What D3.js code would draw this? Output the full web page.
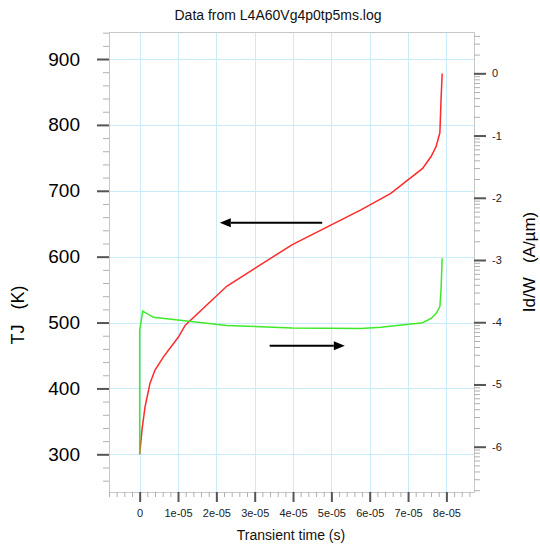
<!DOCTYPE html>
<html>
<head>
<meta charset="utf-8">
<script src="https://cdn.jsdelivr.net/npm/d3@7"></script>
<style>
  html, body { margin: 0; padding: 0; background: #fff; }
  svg { display: block; font-family: "Liberation Sans", Arial, Helvetica, sans-serif; }
</style>
</head>
<body>
<svg id="chart" width="540" height="544"></svg>
<script>
// ---- data ----
const titleText = "Data from L4A60Vg4p0tp5ms.log";
const xLabel = "Transient time (s)";
const yLeftLabel = "TJ   (K)";
const yRightLabel = "Id/W   (A/\u00b5m)";

const xTicks = [0, 1e-5, 2e-5, 3e-5, 4e-5, 5e-5, 6e-5, 7e-5, 8e-5];
const xTickLabels = ["0", "1e-05", "2e-05", "3e-05", "4e-05", "5e-05", "6e-05", "7e-05", "8e-05"];
const leftTicks = [300, 400, 500, 600, 700, 800, 900];
const rightTickExps = [-6, -5, -4, -3, -2, -1, 0];

// Red: junction temperature (left axis)
const redTime = [0, 0.06e-5, 0.14e-5, 0.27e-5, 0.4e-5, 0.62e-5, 1.01e-5, 1.19e-5, 2.27e-5, 3.97e-5, 5.77e-5, 6.55e-5, 7.38e-5, 7.6e-5, 7.73e-5, 7.83e-5, 7.86e-5, 7.89e-5];
const redTJ   = [300, 337, 372, 408, 428, 448, 478, 496, 555, 618, 671, 696, 734, 752, 767, 788, 838, 878];

// Green: drain current per width (right axis, log)
const greenTime = [0, 0, 0.08e-5, 0.36e-5, 1.23e-5, 2.27e-5, 3.98e-5, 5.77e-5, 6.29e-5, 7.38e-5, 7.6e-5, 7.73e-5, 7.83e-5, 7.86e-5, 7.89e-5];
const greenId   = [7.8e-7, 7.4e-5, 1.51e-4, 1.2e-4, 1.05e-4, 8.9e-5, 8.1e-5, 7.9e-5, 8.3e-5, 9.8e-5, 1.15e-4, 1.38e-4, 1.78e-4, 3.3e-4, 1.07e-3];

// Annotation arrows (data coordinates)
const leftArrow  = { t0: 4.76e-5, t1: 2.09e-5, tj: 651.5 };
const rightArrow = { t0: 3.39e-5, t1: 5.35e-5, id: 4.2e-5 };

// ---- layout ----
const L = 109, R = 474, T = 32, B = 492;
const svg = d3.select("#chart");

const x = d3.scaleLinear().domain([-0.8e-5, 8.72e-5]).range([L, R]);
const yL = d3.scaleLinear().domain([242.8, 941]).range([B, T]);
const yR = d3.scaleLog().domain([Math.pow(10, -6.728), Math.pow(10, 0.664)]).range([B, T]);

const gridColor = "#c9ecfb";
const axisColor = "#c8c8c8";
const majorColor = "#555";
const minorColor = "#b0b0b0";

// grid
const grid = svg.append("g");
grid.selectAll(".gx").data(xTicks).join("line")
  .attr("x1", d => Math.round(x(d)) + 0.5).attr("x2", d => Math.round(x(d)) + 0.5)
  .attr("y1", T).attr("y2", B).attr("stroke", gridColor).attr("stroke-width", 1);
grid.selectAll(".gy").data(leftTicks).join("line")
  .attr("x1", L).attr("x2", R)
  .attr("y1", d => Math.round(yL(d)) + 0.5).attr("y2", d => Math.round(yL(d)) + 0.5)
  .attr("stroke", gridColor).attr("stroke-width", 1);

// frame
svg.append("rect").attr("x", L + 0.5).attr("y", T + 0.5).attr("width", R - L).attr("height", B - T)
  .attr("fill", "none").attr("stroke", axisColor).attr("stroke-width", 1);

function styleAxis(g, color, width) {
  g.select(".domain").remove();
  g.selectAll(".tick line").attr("stroke", color).attr("stroke-width", width);
}

// minor ticks
const xMinor = d3.range(-8e-6, 8.7e-5, 2e-6).filter(v => Math.abs(Math.round(v / 1e-5) * 1e-5 - v) > 1e-7 || v < -1e-6);
svg.append("g").attr("transform", `translate(0,${B})`)
  .call(d3.axisBottom(x).tickValues(xMinor).tickSize(5).tickFormat(""))
  .call(g => styleAxis(g, minorColor, 1));
const leftMinor = d3.range(260, 941, 20).filter(v => v % 100 !== 0);
svg.append("g").attr("transform", `translate(${L},0)`)
  .call(d3.axisLeft(yL).tickValues(leftMinor).tickSize(6).tickFormat(""))
  .call(g => styleAxis(g, minorColor, 1));
const rightMinor = [];
for (let d = -7; d <= 0; d++) for (let k = 2; k <= 9; k++) {
  const v = k * Math.pow(10, d);
  if (v >= yR.domain()[0] && v <= yR.domain()[1]) rightMinor.push(v);
}
svg.append("g").attr("transform", `translate(${R},0)`)
  .call(d3.axisRight(yR).tickValues(rightMinor).tickSize(6).tickFormat(""))
  .call(g => styleAxis(g, minorColor, 1));

// major axes
const xAxis = svg.append("g").attr("transform", `translate(0,${B})`)
  .call(d3.axisBottom(x).tickValues(xTicks).tickSize(10).tickPadding(7)
    .tickFormat((d, i) => xTickLabels[i]))
  .call(g => styleAxis(g, majorColor, 2));
xAxis.selectAll("text").attr("font-size", 11).attr("fill", "#222")
  .attr("font-family", "Liberation Sans, Arial, sans-serif");

const leftAxis = svg.append("g").attr("transform", `translate(${L},0)`)
  .call(d3.axisLeft(yL).tickValues(leftTicks).tickSize(12).tickPadding(17))
  .call(g => styleAxis(g, majorColor, 2));
leftAxis.selectAll("text").attr("font-size", 19).attr("fill", "#000")
  .attr("font-family", "Liberation Sans, Arial, sans-serif");

const rightAxis = svg.append("g").attr("transform", `translate(${R},0)`)
  .call(d3.axisRight(yR).tickValues(rightTickExps.map(e => Math.pow(10, e))).tickSize(12).tickPadding(6)
    .tickFormat(d => String(Math.round(Math.log10(d)))))
  .call(g => styleAxis(g, majorColor, 2));
rightAxis.selectAll("text").attr("font-size", 11).attr("fill", "#222")
  .attr("font-family", "Liberation Sans, Arial, sans-serif");

// curves
const redLine = d3.line().x((d, i) => x(redTime[i])).y(d => yL(d));
svg.append("path").datum(redTJ).attr("d", redLine)
  .attr("fill", "none").attr("stroke", "#ff2a2a").attr("stroke-width", 1.5);
const greenLine = d3.line().x((d, i) => x(greenTime[i])).y(d => yR(d));
svg.append("path").datum(greenId).attr("d", greenLine)
  .attr("fill", "none").attr("stroke", "#3fe82a").attr("stroke-width", 1.5);

// arrows
function arrow(x0, x1, y) {
  const dir = Math.sign(x1 - x0);
  const head = 11, hw = 4.5;
  svg.append("line").attr("x1", x0).attr("x2", x1 - dir * head).attr("y1", y).attr("y2", y)
    .attr("stroke", "#000").attr("stroke-width", 2);
  svg.append("path")
    .attr("d", `M${x1},${y} L${x1 - dir * head},${y - hw} L${x1 - dir * head},${y + hw} Z`)
    .attr("fill", "#000");
}
arrow(x(leftArrow.t0), x(leftArrow.t1), yL(leftArrow.tj));
arrow(x(rightArrow.t0), x(rightArrow.t1), yR(rightArrow.id));

// texts
svg.append("text").attr("x", 278).attr("y", 20).attr("text-anchor", "middle")
  .attr("font-size", 14).attr("fill", "#111").text(titleText);
svg.append("text").attr("x", 291).attr("y", 540).attr("text-anchor", "middle")
  .attr("font-size", 14).attr("fill", "#111").text(xLabel);
svg.append("text").attr("transform", "translate(24,315) rotate(-90)").attr("text-anchor", "middle")
  .attr("font-size", 18).attr("fill", "#000").style("white-space", "pre").text(yLeftLabel);
svg.append("text").attr("transform", "translate(535,262) rotate(-90)").attr("text-anchor", "middle")
  .attr("font-size", 17).attr("fill", "#000").style("white-space", "pre").text(yRightLabel);
</script>
</body>
</html>
